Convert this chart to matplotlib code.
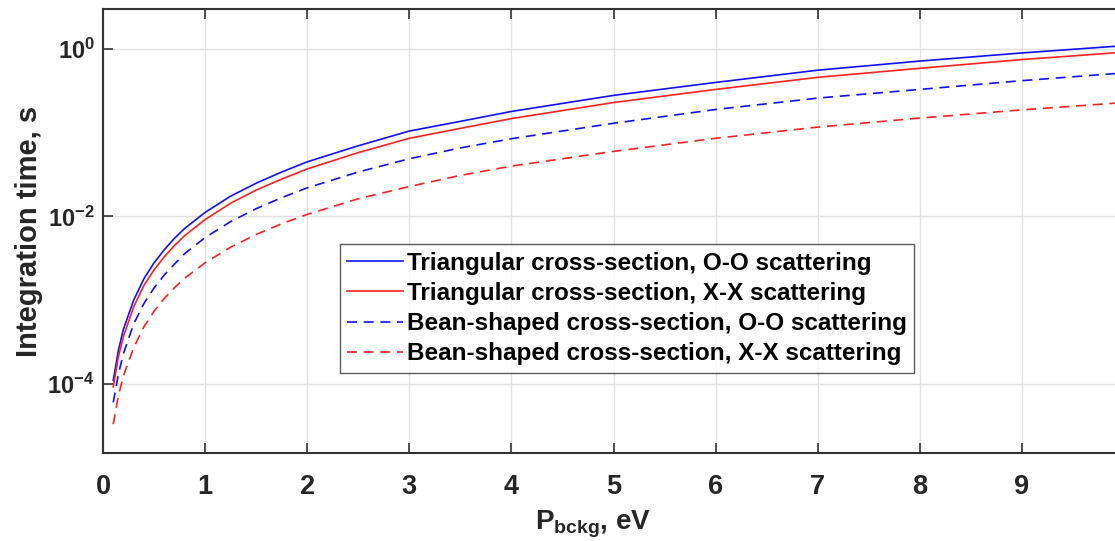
import matplotlib
matplotlib.use("Agg")
import matplotlib.pyplot as plt
from matplotlib.ticker import FixedLocator, FixedFormatter, NullLocator

plt.rcParams['font.family'] = ['Liberation Sans', 'DejaVu Sans']
plt.rcParams['mathtext.fontset'] = 'custom'
plt.rcParams['mathtext.rm'] = 'Liberation Sans'
plt.rcParams['mathtext.bf'] = 'Liberation Sans:bold'

# P_bckg in eV
p_bckg = [0.1, 0.15, 0.2, 0.3, 0.4, 0.5, 0.6, 0.7, 0.8, 1.0, 1.25, 1.5, 1.75, 2.0,
          2.5, 3.0, 3.5, 4.0, 5.0, 6.0, 7.0, 8.0, 9.0, 10.0]

# integration time, s
tri_oo = [1.1e-4, 2.5e-4, 4.5e-4, 1.0e-3, 1.8e-3, 2.8e-3, 4.0e-3, 5.5e-3, 7.2e-3, 1.12e-2,
          1.75e-2, 2.5e-2, 3.4e-2, 4.5e-2, 7.0e-2, 0.105, 0.137, 0.18, 0.28, 0.40,
          0.56, 0.72, 0.90, 1.10]
tri_xx = [9.2e-5, 2.1e-4, 3.7e-4, 8.3e-4, 1.5e-3, 2.3e-3, 3.3e-3, 4.5e-3, 5.9e-3, 9.2e-3,
          1.44e-2, 2.07e-2, 2.8e-2, 3.7e-2, 5.8e-2, 0.086, 0.113, 0.148, 0.23, 0.33,
          0.46, 0.59, 0.75, 0.92]
bean_oo = [6.0e-5, 1.3e-4, 2.3e-4, 5.2e-4, 9.1e-4, 1.4e-3, 2.0e-3, 2.7e-3, 3.6e-3, 5.6e-3,
           8.7e-3, 1.24e-2, 1.68e-2, 2.2e-2, 3.4e-2, 0.049, 0.066, 0.085, 0.130, 0.19,
           0.26, 0.33, 0.42, 0.52]
bean_xx = [3.3e-5, 7.2e-5, 1.25e-4, 2.7e-4, 4.8e-4, 7.4e-4, 1.05e-3, 1.41e-3, 1.83e-3, 2.8e-3,
           4.3e-3, 6.1e-3, 8.2e-3, 1.06e-2, 1.63e-2, 0.0228, 0.031, 0.040, 0.060, 0.086,
           0.117, 0.150, 0.188, 0.23]

labels = ['Triangular cross-section, O-O scattering',
          'Triangular cross-section, X-X scattering',
          'Bean-shaped cross-section, O-O scattering',
          'Bean-shaped cross-section, X-X scattering']

ytick_vals = [1e-4, 1e-2, 1e0]
ytick_labels = [r'$\mathbf{10^{-4}}$', r'$\mathbf{10^{-2}}$', r'$\mathbf{10^{0}}$']
xtick_vals = [0, 1, 2, 3, 4, 5, 6, 7, 8, 9]

fig = plt.figure(figsize=(11.15, 5.41), dpi=100)
ax = fig.add_axes([0.0924, 0.163, 0.9157, 0.820])

blue = '#1010ff'
red = '#ff2020'
ax.plot(p_bckg, tri_oo, '-', color=blue, lw=1.2, label=labels[0])
ax.plot(p_bckg, tri_xx, '-', color=red, lw=1.2, label=labels[1])
ax.plot(p_bckg, bean_oo, '--', color=blue, lw=1.2, dashes=(6, 4), label=labels[2])
ax.plot(p_bckg, bean_xx, '--', color=red, lw=1.2, dashes=(6, 4), label=labels[3])

ax.set_yscale('log')
ax.set_xlim(0, 10)
ax.set_ylim(1.5e-5, 3.0)

ax.yaxis.set_major_locator(FixedLocator(ytick_vals))
ax.yaxis.set_major_formatter(FixedFormatter(ytick_labels))
ax.yaxis.set_minor_locator(NullLocator())
ax.set_xticks(xtick_vals)
ax.set_xticklabels([str(v) for v in xtick_vals])

ax.grid(True, color='#e2e2e2', lw=1.0)
ax.set_axisbelow(True)
ax.tick_params(direction='in', length=7, width=1.2, color='#333333',
               labelcolor='#262626', top=True, right=False)
ax.tick_params(axis='x', pad=15, labelsize=19.5)
ax.tick_params(axis='y', pad=6, labelsize=17)
for lab in ax.get_xticklabels() + ax.get_yticklabels():
    lab.set_fontweight('bold')

for side in ['left', 'bottom', 'top']:
    ax.spines[side].set_color('#333333')
    ax.spines[side].set_linewidth(1.5)
ax.spines['right'].set_visible(False)

ax.set_ylabel('Integration time, s', fontsize=21, fontweight='bold', color='#262626')
ax.yaxis.set_label_coords(-0.059, 0.5)
ax.set_xlabel(r'P$_{\mathbf{bckg}}$, eV', fontsize=20, fontweight='bold', color='#262626')
ax.xaxis.set_label_coords(0.48, -0.125)

leg = ax.legend(loc='upper left', bbox_to_anchor=(0.232, 0.47),
                prop={'weight': 'bold', 'size': 17.5}, frameon=True, fancybox=False,
                handlelength=2.3, handletextpad=0.15, borderpad=0.3, labelspacing=0.3,
                borderaxespad=0)
leg.get_frame().set_edgecolor('#333333')
leg.get_frame().set_linewidth(1.0)

fig.savefig('out.png', dpi=100)
